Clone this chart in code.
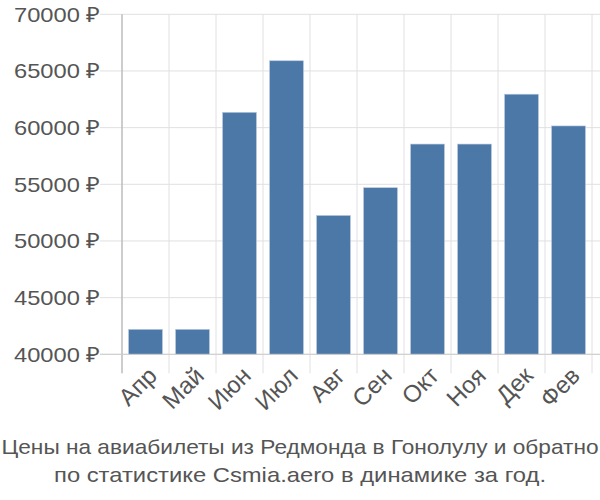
<!DOCTYPE html>
<html>
<head>
<meta charset="utf-8">
<script src="https://cdn.jsdelivr.net/npm/d3@7"></script>
<style>
  body { margin: 0; background: #fff; }
  text { font-family: "Liberation Sans", Arial, sans-serif; fill: #555; }
</style>
</head>
<body>
<div id="chart"></div>
<script>
// values
let months = ["Апр", "Май", "Июн", "Июл", "Авг", "Сен", "Окт", "Ноя", "Дек", "Фев"];
let prices = [42200, 42200, 61350, 65900, 52250, 54700, 58550, 58550, 62950, 60150];
let yTicks = [40000, 45000, 50000, 55000, 60000, 65000, 70000];
let titleLines = [
  "Цены на авиабилеты из Редмонда в Гонолулу и обратно",
  "по статистике Csmia.aero в динамике за год."
];

let width = 600;
let height = 500;
let margin = { top: 14.3, right: 8, bottom: 145.7, left: 122 };

let svg = d3
  .select("#chart")
  .append("svg")
  .attr("width", width)
  .attr("height", height);

let x = d3
  .scaleBand()
  .domain(months)
  .range([margin.left, width - margin.right])
  .paddingInner(0.28)
  .paddingOuter(0.14);

let y = d3
  .scaleLinear()
  .domain([40000, 70000])
  .range([height - margin.bottom, margin.top]);

let step = x.step();

// horizontal grid
svg
  .append("g")
  .selectAll("line")
  .data(yTicks)
  .join("line")
  .attr("x1", margin.left - 22)
  .attr("x2", width)
  .attr("y1", d => y(d))
  .attr("y2", d => y(d))
  .attr("stroke", "#e0e0e0")
  .attr("stroke-width", 1);

// vertical grid at band edges
let edges = months.map((m, i) => margin.left + i * step).concat([margin.left + months.length * step]);
svg
  .append("g")
  .selectAll("line")
  .data(edges)
  .join("line")
  .attr("x1", d => d)
  .attr("x2", d => d)
  .attr("y1", margin.top)
  .attr("y2", y(40000) + 19)
  .attr("stroke", "#e0e0e0")
  .attr("stroke-width", 1);

// y axis line
svg
  .append("line")
  .attr("x1", margin.left)
  .attr("x2", margin.left)
  .attr("y1", margin.top)
  .attr("y2", y(40000) + 19)
  .attr("stroke", "#aaa")
  .attr("stroke-width", 1);

// y labels
svg
  .append("g")
  .selectAll("text")
  .data(yTicks)
  .join("text")
  .attr("x", margin.left - 22)
  .attr("y", d => y(d))
  .attr("dy", "0.35em")
  .attr("text-anchor", "end")
  .attr("textLength", 86)
  .attr("lengthAdjust", "spacingAndGlyphs")
  .style("font-size", "21px")
  .text(d => d + " ₽");

// bars
svg
  .append("g")
  .selectAll("rect")
  .data(prices)
  .join("rect")
  .attr("x", (d, i) => x(months[i]))
  .attr("y", d => y(d))
  .attr("width", x.bandwidth())
  .attr("height", d => y(40000) - y(d))
  .attr("fill", "#4c78a8")
  .attr("stroke", "#b8c9dc")
  .attr("stroke-width", 0.6);

// x axis baseline
svg
  .append("line")
  .attr("x1", margin.left - 22)
  .attr("x2", width)
  .attr("y1", y(40000))
  .attr("y2", y(40000))
  .attr("stroke", "#ccc")
  .attr("stroke-width", 1);

// x labels
svg
  .append("g")
  .selectAll("text")
  .data(months)
  .join("text")
  .attr("transform", d => "translate(" + (x(d) + x.bandwidth() / 2 + 1) + "," + (y(40000) + 11) + ") rotate(-45)")
  .attr("text-anchor", "end")
  .attr("dy", "0.7em")
  .style("font-size", "24px")
  .text(d => d);

// title
svg
  .append("g")
  .selectAll("text")
  .data(titleLines)
  .join("text")
  .attr("x", width / 2)
  .attr("y", (d, i) => 454 + i * 28)
  .attr("text-anchor", "middle")
  .attr("textLength", (d, i) => (i === 0 ? 597 : 492))
  .attr("lengthAdjust", "spacingAndGlyphs")
  .style("font-size", "21px")
  .text(d => d);
</script>
</body>
</html>
